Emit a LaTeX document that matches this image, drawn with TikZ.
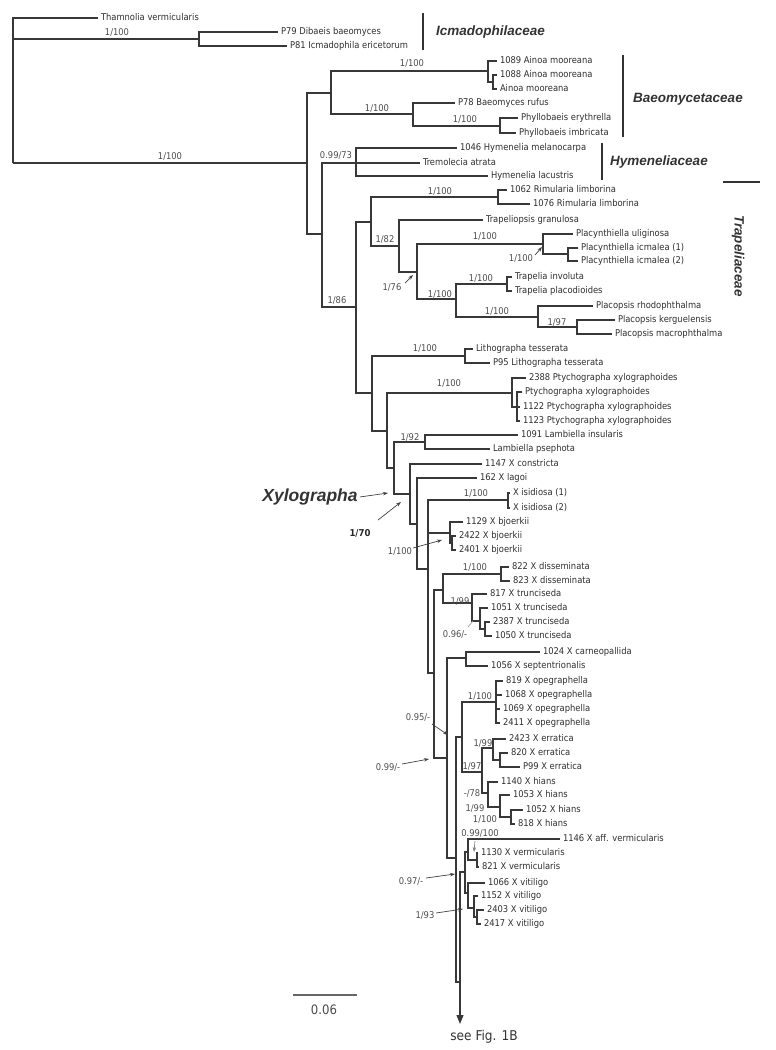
\documentclass[tikz,border=0pt]{standalone}
\usepackage{fontspec}
\setmainfont{DejaVu Sans Condensed}
\newfontfamily\famfont{Liberation Sans}
\usetikzlibrary{arrows.meta}

\tikzset{
  br/.style={draw=black!78, line width=1.1pt},
  pt/.style={inner sep=0pt, outer sep=0pt, minimum size=0pt},
  tip/.style={anchor=west, inner xsep=3pt, inner ysep=0pt, outer sep=0pt,
    text height=6.8pt, text depth=1.8pt, font=\fontsize{9.3}{10}\selectfont, text=black!82},
  supp/.style={inner sep=0pt, font=\fontsize{9.3}{10}\selectfont, text=black!70},
  fam/.style={anchor=west, inner sep=0pt, font=\famfont\bfseries\itshape\fontsize{13.5}{15}\selectfont, text=black!80},
  famline/.style={draw=black!80, line width=1.6pt},
  ptr/.style={draw=black!75, line width=0.7pt, -{Stealth[length=5pt,width=3.5pt]}},
}

\begin{document}
\begin{tikzpicture}[x=1pt, y=-1pt]
    \useasboundingbox (0,0) rectangle (776,1050);

    % Internal nodes
    \foreach \n/\x/\y in {root/13/163, nIcm/199/39, nA1/307/163, nBae/331/93, nAin/488/71,
        nAin2/493/82, nBR/413/114, nPhy/500/126, nA2/322/234, nHym/356/163, nB/356/307,
        nTra/371/222, nRim/498/197, nTr2/399/246, nTr3/417/272, nPla/543/244, nPli/568/254,
        nTP/456/299, nTrp/507/284, nPlc/538/317, nPck/577/327, nC/372/393, nLit/465/356,
        nD/387/431, nPty/512/393, nPty2/517/407, nE/394/468, nLam/425/442, nF/410/494,
        nG/417/524, nN1/428/569, nIsi/508/500, nBj/450/533, nBj2/452/543, nN2/434/673,
        nDT/443/590, nDis/501/574, nTru/472/603, nTru2/480/621, nTru3/485/629, nK/447/758,
        nCS/466/658, nL1/456/858, nM/462/737, nOp/496/702, nEH/482/772, nEr/493/748,
        nEr2/500/760, nHi/488/793, nHi2/500/807, nHi3/511/817, nL2/460/982, nVV/465/872,
        nV1/468/852, nV2/477/860, nVT/468/893, nVT2/474/908, nVT3/477/917}
        \node[pt] (\n) at (\x,\y) {};

    % Outgroups
    \node[tip] (tThm) at (98,18) {Thamnolia vermicularis};
    \node[tip] (tP79) at (278,32) {P79 Dibaeis baeomyces};
    \node[tip] (tP81) at (287,46) {P81 Icmadophila ericetorum};

    % Baeomycetaceae
    \node[tip] (t1089) at (497,61) {1089 Ainoa mooreana};
    \node[tip] (t1088) at (497,75) {1088 Ainoa mooreana};
    \node[tip] (tAin) at (497,89) {Ainoa mooreana};
    \node[tip] (tP78) at (455,103) {P78 Baeomyces rufus};
    \node[tip] (tPhE) at (518,118) {Phyllobaeis erythrella};
    \node[tip] (tPhI) at (516,133) {Phyllobaeis imbricata};

    % Hymeneliaceae
    \node[tip] (tHym1) at (457,148) {1046 Hymenelia melanocarpa};
    \node[tip] (tTre) at (420,163) {Tremolecia atrata};
    \node[tip] (tHym2) at (488,176) {Hymenelia lacustris};

    % Trapeliaceae
    \node[tip] (tRim1) at (507,190) {1062 Rimularia limborina};
    \node[tip] (tRim2) at (530,204) {1076 Rimularia limborina};
    \node[tip] (tTrg) at (483,220) {Trapeliopsis granulosa};
    \node[tip] (tPlu) at (573,234) {Placynthiella uliginosa};
    \node[tip] (tPli1) at (578,248) {Placynthiella icmalea (1)};
    \node[tip] (tPli2) at (578,261) {Placynthiella icmalea (2)};
    \node[tip] (tTri) at (512,277) {Trapelia involuta};
    \node[tip] (tTrp) at (512,291) {Trapelia placodioides};
    \node[tip] (tPcr) at (593,306) {Placopsis rhodophthalma};
    \node[tip] (tPck) at (615,320) {Placopsis kerguelensis};
    \node[tip] (tPcm) at (612,334) {Placopsis macrophthalma};

    % Lithographa, Ptychographa, Lambiella
    \node[tip] (tLit1) at (473,349) {Lithographa tesserata};
    \node[tip] (tLit2) at (490,363) {P95 Lithographa tesserata};
    \node[tip] (tPty1) at (526,378) {2388 Ptychographa xylographoides};
    \node[tip] (tPty2) at (522,392) {Ptychographa xylographoides};
    \node[tip] (tPty3) at (520,407) {1122 Ptychographa xylographoides};
    \node[tip] (tPty4) at (520,421) {1123 Ptychographa xylographoides};
    \node[tip] (tLam1) at (518,435) {1091 Lambiella insularis};
    \node[tip] (tLam2) at (490,449) {Lambiella psephota};

    % Xylographa
    \node[tip] (tXco) at (482,464) {1147 X constricta};
    \node[tip] (tXla) at (477,478) {162 X lagoi};
    \node[tip] (tXis1) at (510,493) {X isidiosa (1)};
    \node[tip] (tXis2) at (510,508) {X isidiosa (2)};
    \node[tip] (tXbj1) at (463,522) {1129 X bjoerkii};
    \node[tip] (tXbj2) at (456,536) {2422 X bjoerkii};
    \node[tip] (tXbj3) at (456,550) {2401 X bjoerkii};
    \node[tip] (tXdi1) at (509,567) {822 X disseminata};
    \node[tip] (tXdi2) at (510,581) {823 X disseminata};
    \node[tip] (tXtr1) at (487,594) {817 X trunciseda};
    \node[tip] (tXtr2) at (488,608) {1051 X trunciseda};
    \node[tip] (tXtr3) at (490,622) {2387 X trunciseda};
    \node[tip] (tXtr4) at (492,636) {1050 X trunciseda};
    \node[tip] (tXca) at (540,652) {1024 X carneopallida};
    \node[tip] (tXse) at (488,666) {1056 X septentrionalis};
    \node[tip] (tXop1) at (503,681) {819 X opegraphella};
    \node[tip] (tXop2) at (502,695) {1068 X opegraphella};
    \node[tip] (tXop3) at (500,709) {1069 X opegraphella};
    \node[tip] (tXop4) at (500,723) {2411 X opegraphella};
    \node[tip] (tXer1) at (506,739) {2423 X erratica};
    \node[tip] (tXer2) at (508,753) {820 X erratica};
    \node[tip] (tXer3) at (520,767) {P99 X erratica};
    \node[tip] (tXhi1) at (498,782) {1140 X hians};
    \node[tip] (tXhi2) at (510,795) {1053 X hians};
    \node[tip] (tXhi3) at (523,810) {1052 X hians};
    \node[tip] (tXhi4) at (515,824) {818 X hians};
    \node[tip] (tXav) at (560,839) {1146 X aff. vermicularis};
    \node[tip] (tXve1) at (478,853) {1130 X vermicularis};
    \node[tip] (tXve2) at (479,867) {821 X vermicularis};
    \node[tip] (tXvi1) at (485,883) {1066 X vitiligo};
    \node[tip] (tXvi2) at (478,896) {1152 X vitiligo};
    \node[tip] (tXvi3) at (484,910) {2403 X vitiligo};
    \node[tip] (tXvi4) at (481,924) {2417 X vitiligo};

    % Branches
    \foreach \p/\c in {root/tThm, root/nIcm, root/nA1, nIcm/tP79, nIcm/tP81,
        nA1/nBae, nA1/nA2, nBae/nAin, nBae/nBR, nAin/t1089, nAin/nAin2, nAin2/t1088, nAin2/tAin,
        nBR/tP78, nBR/nPhy, nPhy/tPhE, nPhy/tPhI,
        nA2/nHym, nA2/nB, nHym/tHym1, nHym/tTre, nHym/tHym2,
        nB/nTra, nB/nC, nTra/nRim, nTra/nTr2, nRim/tRim1, nRim/tRim2,
        nTr2/tTrg, nTr2/nTr3, nTr3/nPla, nTr3/nTP,
        nPla/tPlu, nPla/nPli, nPli/tPli1, nPli/tPli2,
        nTP/nTrp, nTP/nPlc, nTrp/tTri, nTrp/tTrp,
        nPlc/tPcr, nPlc/nPck, nPck/tPck, nPck/tPcm,
        nC/nLit, nC/nD, nLit/tLit1, nLit/tLit2, nD/nPty, nD/nE,
        nPty/tPty1, nPty/nPty2, nPty2/tPty2, nPty2/tPty3, nPty2/tPty4,
        nE/nLam, nE/nF, nLam/tLam1, nLam/tLam2}
        \draw[br] (\p) |- (\c.west);
    \foreach \p/\c in {nF/tXco, nF/nG, nG/tXla, nG/nN1,
        nN1/nIsi, nN1/nBj, nN1/nN2, nIsi/tXis1, nIsi/tXis2,
        nBj/tXbj1, nBj/nBj2, nBj2/tXbj2, nBj2/tXbj3,
        nN2/nDT, nN2/nK, nDT/nDis, nDT/nTru, nDis/tXdi1, nDis/tXdi2,
        nTru/tXtr1, nTru/nTru2, nTru2/tXtr2, nTru2/nTru3, nTru3/tXtr3, nTru3/tXtr4,
        nK/nCS, nK/nL1, nCS/tXca, nCS/tXse, nL1/nM, nL1/nL2,
        nM/nOp, nM/nEH, nOp/tXop1, nOp/tXop2, nOp/tXop3, nOp/tXop4,
        nEH/nEr, nEH/nHi, nEr/tXer1, nEr/nEr2, nEr2/tXer2, nEr2/tXer3,
        nHi/tXhi1, nHi/nHi2, nHi2/tXhi2, nHi2/nHi3, nHi3/tXhi3, nHi3/tXhi4,
        nL2/nVV, nVV/nV1, nVV/nVT, nV1/tXav, nV1/nV2, nV2/tXve1, nV2/tXve2,
        nVT/tXvi1, nVT/nVT2, nVT2/tXvi2, nVT2/nVT3, nVT3/tXvi3, nVT3/tXvi4}
        \draw[br] (\p) |- (\c.west);

    % Continuation arrow
    \coordinate (fig1b) at (460,1024);
    \draw[br, -{Triangle[width=7pt,length=9pt]}] (nL2.center) -- (fig1b);
    \node[font=\fontsize{13.5}{15}\selectfont, text=black!80] (seefig) at (484,1037) {see Fig. 1B};

    % Support values
    \foreach \n/\x/\y/\t in {sIcm/117/32/1{/}100, sA1/170/156/1{/}100, sAin/412/63/1{/}100,
        sBR/377/108/1{/}100, sPhy/465/119/1{/}100, sHym/336/155/0.99{/}73, sB/337/300/1{/}86,
        sRim/440/191/1{/}100, sTra/385/239/1{/}82, sTr3/392/287/1{/}76, sPla/485/236/1{/}100,
        sPli/521/258/1{/}100, sTP/440/294/1{/}100, sTrp/481/278/1{/}100, sPlc/497/311/1{/}100,
        sPck/557/322/1{/}97, sLit/425/348/1{/}100, sPty/449/383/1{/}100, sLam/410/437/1{/}92,
        sIsi/476/493/1{/}100, sBj/400/551/1{/}100, sDis/475/567/1{/}100, sTru/460/601/1{/}99,
        sTru2/455/634/0.96{/}-, sOp/480/696/1{/}100, sL1/418/717/0.95{/}-, sK/388/767/0.99{/}-,
        sEr/483/743/1{/}99, sEH/472/766/1{/}97, sHi/472/793/-{/}78, sHi2/475/808/1{/}99,
        sHi3/485/819/1{/}100, sV1/480/833/0.99{/}100, sVV/411/881/0.97{/}-, sVT/425/915/1{/}93}
        \node[supp] (\n) at (\x,\y) {\t};

    % Pointers to short branches
    \foreach \n/\ax/\ay/\bx/\by in {pTr3/405/283/413/275, pPli/535/255/542/247,
        pBj/413/548/442/540, pL1/432/724/448/735, pK/402/764/429/759,
        pVV/426/878/455/874, pVT/436/913/463/909}
        {
        \coordinate (\n a) at (\ax,\ay);
        \coordinate (\n b) at (\bx,\by);
        \draw[ptr] (\n a) -- (\n b);
        }
    \coordinate (pTru2a) at (468,627);
    \coordinate (pTru2b) at (473,621);
    \draw[draw=black!40, line width=0.6pt] (pTru2a) -- (pTru2b);
    \coordinate (pV1a) at (475,841);
    \coordinate (pV1b) at (474,852);
    \draw[ptr, draw=black!50] (pV1a) -- (pV1b);

    % Genus label
    \node[inner sep=0pt, font=\famfont\bfseries\itshape\fontsize{17.5}{19}\selectfont, text=black!80] (lXyl) at (310,497) {Xylographa};
    \coordinate (aXyl) at (388,493);
    \draw[ptr] (lXyl.east) ++(2,0) -- (aXyl);
    \node[inner sep=0pt, font=\bfseries\fontsize{9.5}{10}\selectfont, text=black!85] (sE) at (360,533) {1/70};
    \coordinate (pEa) at (378,520);
    \coordinate (pEb) at (401,502);
    \draw[ptr] (pEa) -- (pEb);

    % Family bars
    \draw[famline] (423,13) -- (423,50);
    \node[fam] (fIcm) at (436,32) {Icmadophilaceae};
    \draw[famline] (623,55) -- (623,137);
    \node[fam] (fBae) at (633,99) {Baeomycetaceae};
    \draw[famline] (602,143) -- (602,180);
    \node[fam] (fHym) at (610,162) {Hymeneliaceae};
    \draw[famline] (723,182) -- (760,182);
    \node[fam, anchor=center, rotate=-90] (fTra) at (738,256) {Trapeliaceae};

    % Scale bar
    \draw[draw=black!60, line width=1.2pt] (293,995) -- (357,995);
    \node[font=\fontsize{13}{14}\selectfont, text=black!70] (scl) at (324,1010) {0.06};
\end{tikzpicture}
\end{document}
